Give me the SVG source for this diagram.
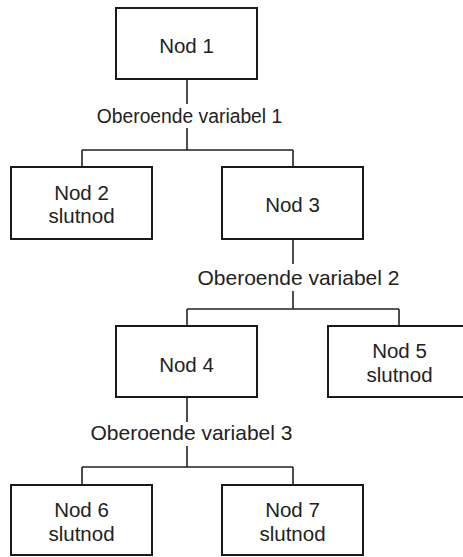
<svg xmlns="http://www.w3.org/2000/svg" width="463" height="557" viewBox="0 0 463 557">
<style>
.box{fill:#fff;stroke:#1a1a1a;stroke-width:2}
.nt{font-family:"Liberation Sans",Arial,sans-serif;font-size:20.5px;fill:#222;text-anchor:middle}
.lt{font-family:"Liberation Sans",Arial,sans-serif;font-size:21px;fill:#222;text-anchor:middle}
.lt.small{font-size:19.3px}
.ln{fill:none;stroke:#222;stroke-width:1.6}
</style>
<rect width="463" height="557" fill="#fff"/>
<g id="connectors">
<path class="ln" d="M187 79V104M187 128V150M82 150H293M82 150V167M293 150V167"/>
<path class="ln" d="M293 239V264M293 291V309M187 309H399M187 309V326M399 309V326"/>
<path class="ln" d="M187 397V422M187 446V467M82 467H293M82 467V485M293 467V485"/>
<text class="lt small" x="189.5" y="123">Oberoende variabel 1</text>
<text class="lt" x="298.5" y="285">Oberoende variabel 2</text>
<text class="lt" x="191.5" y="440">Oberoende variabel 3</text>
</g>
<g id="nod1"><rect class="box" x="116" y="8" width="141" height="71"/><text class="nt" x="186.5" y="53">Nod 1</text></g>
<g id="nod2"><rect class="box" x="11" y="167" width="141" height="72"/><text class="nt" x="81.5" y="200">Nod 2</text><text class="nt" x="81.5" y="223">slutnod</text></g>
<g id="nod3"><rect class="box" x="222" y="167" width="141" height="72"/><text class="nt" x="292.5" y="212">Nod 3</text></g>
<g id="nod4"><rect class="box" x="116" y="326" width="141" height="71"/><text class="nt" x="186.5" y="372">Nod 4</text></g>
<g id="nod5"><rect class="box" x="328" y="326" width="141" height="71"/><text class="nt" x="399.5" y="358">Nod 5</text><text class="nt" x="399.5" y="382">slutnod</text></g>
<g id="nod6"><rect class="box" x="11" y="485" width="141" height="70"/><text class="nt" x="81.5" y="517">Nod 6</text><text class="nt" x="81.5" y="541">slutnod</text></g>
<g id="nod7"><rect class="box" x="222" y="485" width="141" height="70"/><text class="nt" x="292.5" y="517">Nod 7</text><text class="nt" x="292.5" y="541">slutnod</text></g>
</svg>
